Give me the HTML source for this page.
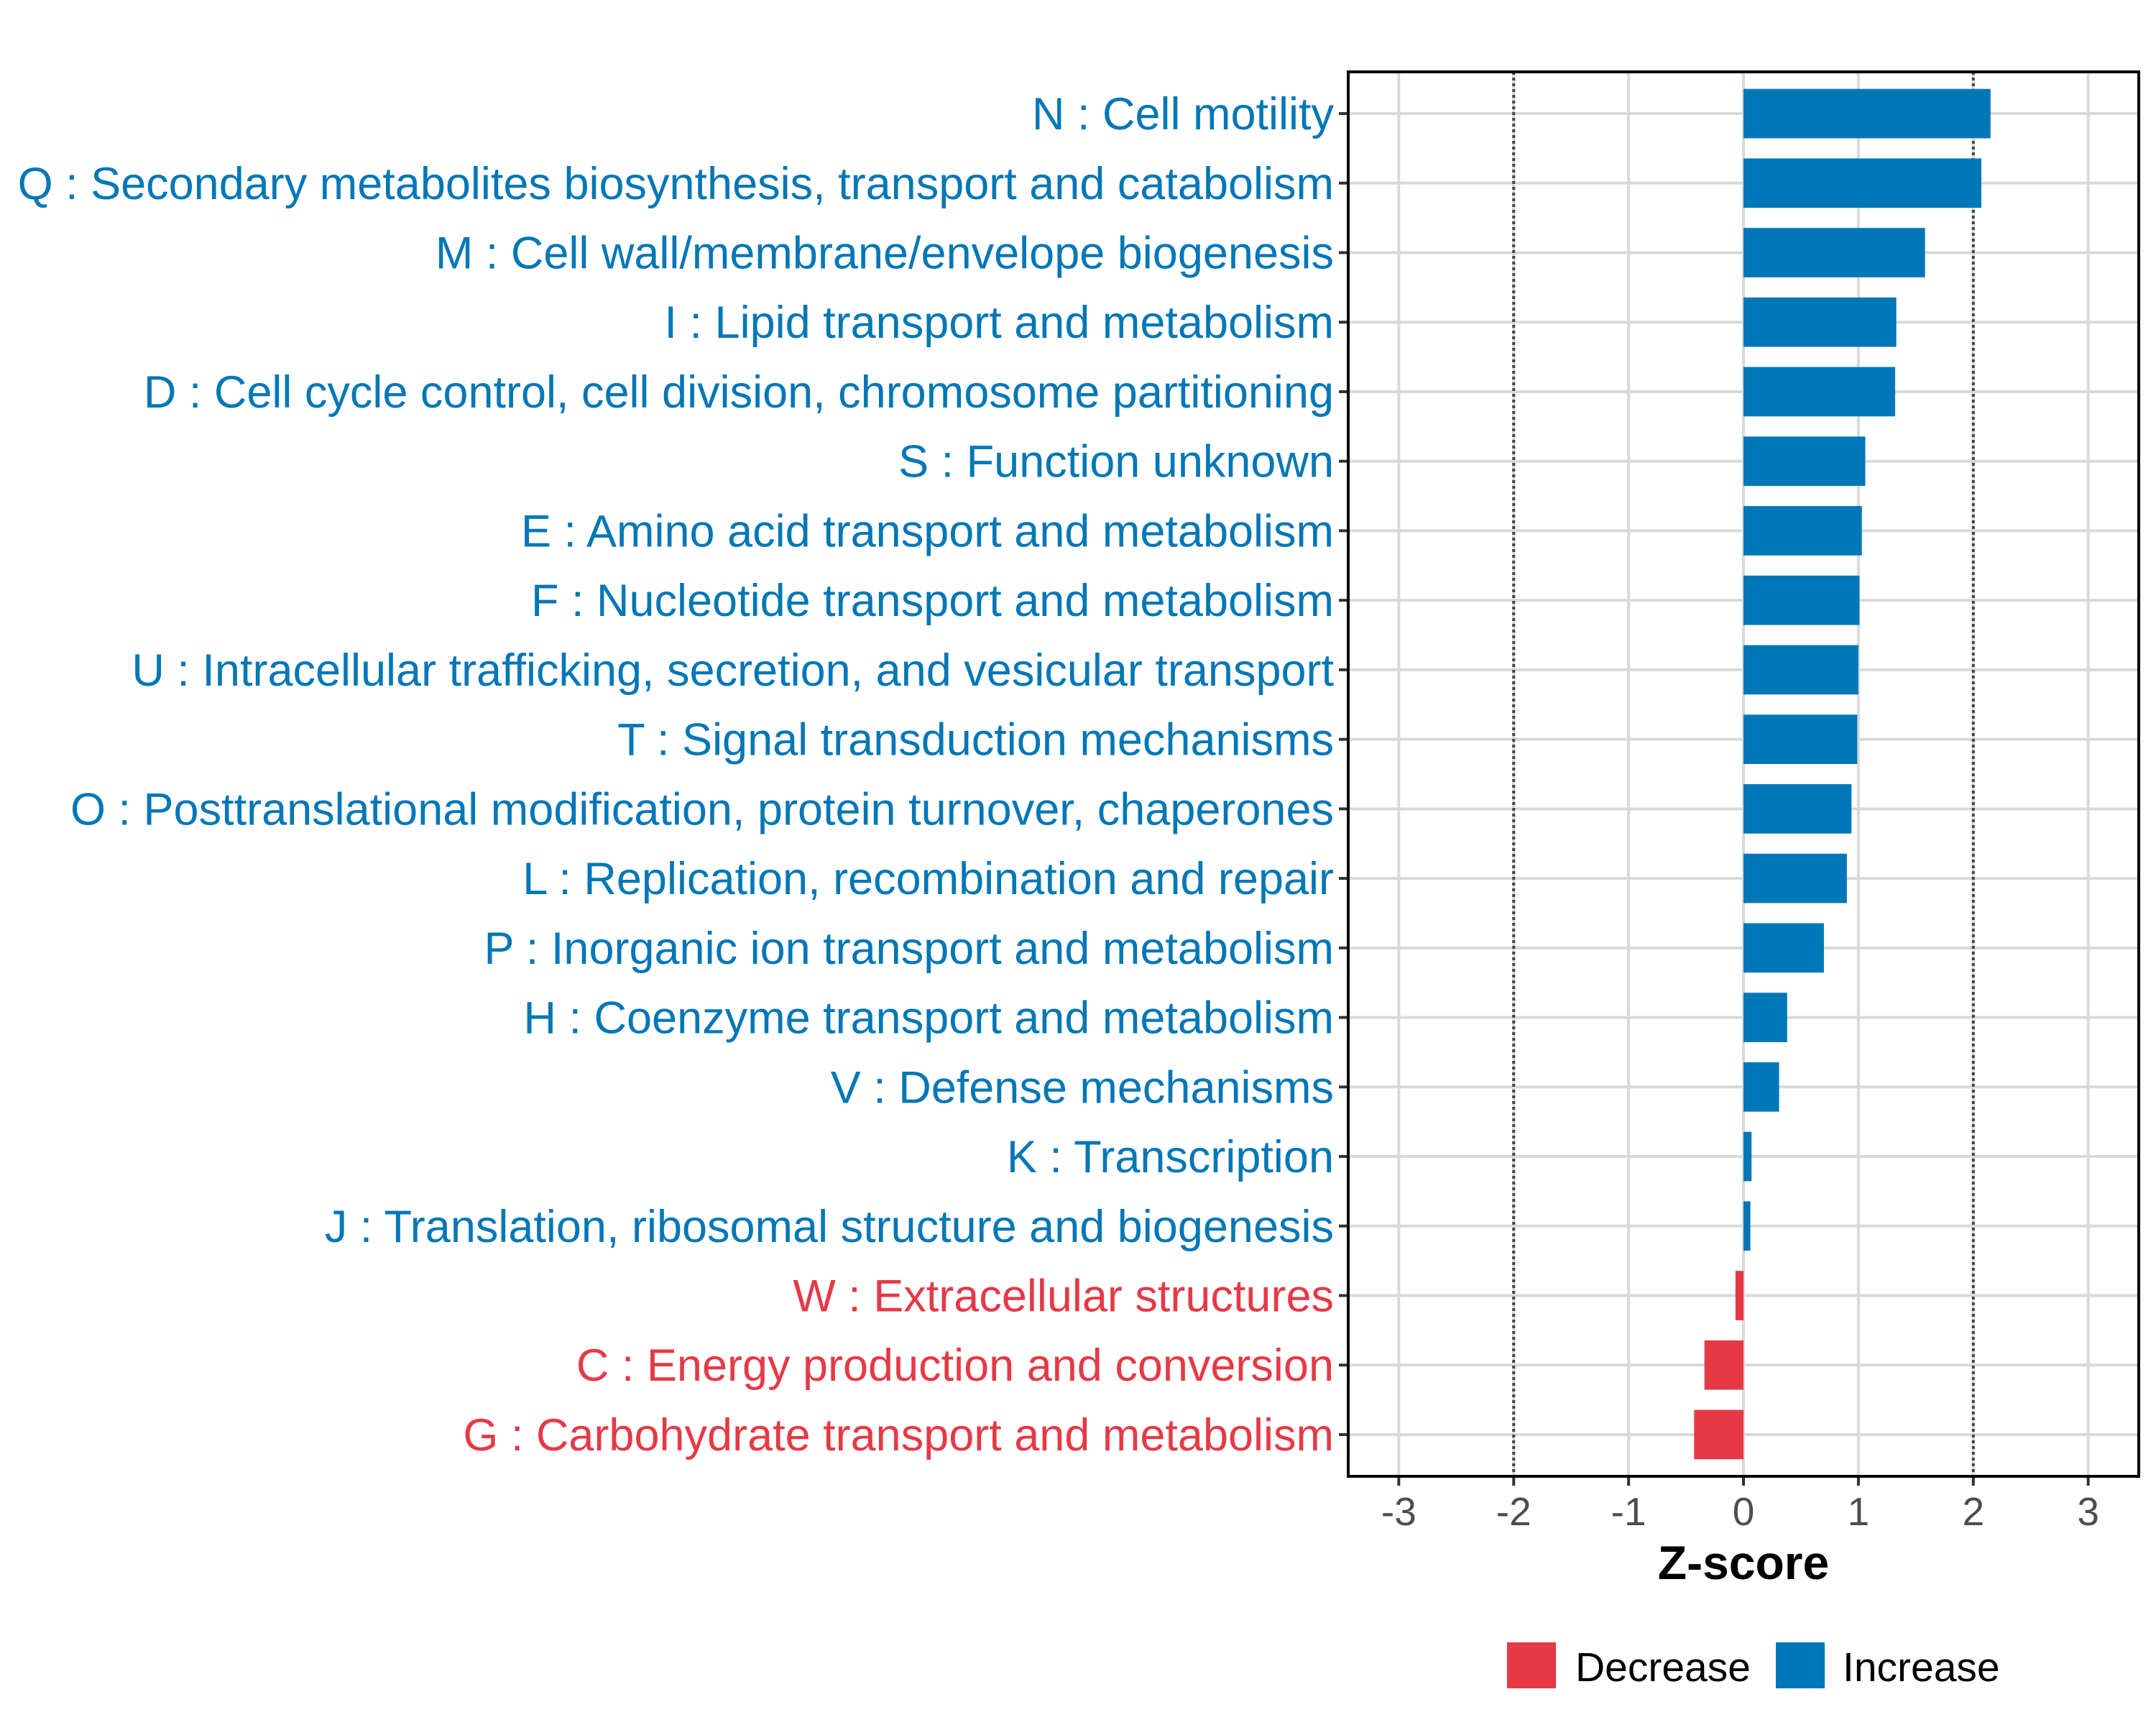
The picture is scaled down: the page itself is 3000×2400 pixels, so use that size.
<!DOCTYPE html>
<html><head><meta charset="utf-8"><style>
html,body{margin:0;padding:0;background:#fff}
svg{display:block;font-family:"Liberation Sans",sans-serif}
</style></head><body>
<svg id="chart" width="3000" height="2400" viewBox="0 0 3000 2400">
<rect width="3000" height="2400" fill="#fff"/>
<g id="grid"></g>
<g id="bars"></g>
<g id="ylabels"></g>
<g id="xaxis"></g>
<rect x="1876" y="100" width="1100" height="1954" fill="none" stroke="#000" stroke-width="4"/>
<text x="2426" y="2197" text-anchor="middle" font-size="66" font-weight="bold" fill="#000">Z-score</text>
<g>
<rect x="2097" y="2285" width="68" height="64" fill="#E63946"/>
<text x="2192" y="2339" font-size="57" fill="#000">Decrease</text>
<rect x="2471" y="2285" width="68" height="64" fill="#0077B6"/>
<text x="2564" y="2339" font-size="57" fill="#000">Increase</text>
</g>
</svg>
<script>
const categories = ["N : Cell motility","Q : Secondary metabolites biosynthesis, transport and catabolism","M : Cell wall/membrane/envelope biogenesis","I : Lipid transport and metabolism","D : Cell cycle control, cell division, chromosome partitioning","S : Function unknown","E : Amino acid transport and metabolism","F : Nucleotide transport and metabolism","U : Intracellular trafficking, secretion, and vesicular transport","T : Signal transduction mechanisms","O : Posttranslational modification, protein turnover, chaperones","L : Replication, recombination and repair","P : Inorganic ion transport and metabolism","H : Coenzyme transport and metabolism","V : Defense mechanisms","K : Transcription","J : Translation, ribosomal structure and biogenesis","W : Extracellular structures","C : Energy production and conversion","G : Carbohydrate transport and metabolism"];
const zscores = [2.15,2.07,1.58,1.33,1.32,1.06,1.03,1.01,1.0,0.99,0.94,0.90,0.70,0.38,0.31,0.07,0.06,-0.07,-0.34,-0.43];
const xTicks = [-3,-2,-1,0,1,2,3];
const xTickLabels = ["-3","-2","-1","0","1","2","3"];
const refLines = [-2,2];

const NS="http://www.w3.org/2000/svg";
const L=1876,R=2976,T=100,B=2054,xmin=-3.44,xmax=3.44;
const step=(B-T)/(categories.length+0.2);
const xs=v=>L+(v-xmin)/(xmax-xmin)*(R-L);
const ys=i=>T+(0.6+i)*step;
const BLUE="#0077B6",RED="#E63946";
function mk(tag,attrs,parent){const e=document.createElementNS(NS,tag);for(const k in attrs)e.setAttribute(k,attrs[k]);parent.appendChild(e);return e;}
const grid=document.getElementById('grid'),bars=document.getElementById('bars'),yl=document.getElementById('ylabels'),xa=document.getElementById('xaxis');
xTicks.forEach((t,i)=>{
  const g=mk('line',{x1:xs(t),x2:xs(t),y1:T,y2:B,stroke:'#d9d9d9','stroke-width':4},grid);
  
  
  const tk=mk('line',{x1:xs(t),x2:xs(t),y1:B,y2:B+13,stroke:'#333','stroke-width':4},xa);
  
  
  const tx=mk('text',{x:xs(t),y:2122,'text-anchor':'middle','font-size':55,fill:'#4d4d4d'},xa);
  tx.textContent=xTickLabels[i];
  
  
});
categories.forEach((c,i)=>{
  const g=mk('line',{x1:L,x2:R,y1:ys(i),y2:ys(i),stroke:'#d9d9d9','stroke-width':4},grid);
  
  
});
refLines.forEach(v=>{
  const d=mk('line',{x1:xs(v),x2:xs(v),y1:T,y2:B,stroke:'#444','stroke-width':4,'stroke-dasharray':'4 4'},grid);
  
  
});
const bh=step*0.71;
categories.forEach((c,i)=>{
  const v=zscores[i],col=v>=0?BLUE:RED;
  const x0=Math.min(xs(0),xs(v)),w=Math.abs(xs(v)-xs(0));
  const r=mk('rect',{x:x0,y:ys(i)-bh/2,width:w,height:bh,fill:col},bars);
  
  
  const tk=mk('line',{x1:L-13,x2:L,y1:ys(i),y2:ys(i),stroke:'#333','stroke-width':4},yl);
  
  
  const t=mk('text',{x:1856,y:ys(i)+22,'text-anchor':'end','font-size':63,fill:col},yl);
  t.textContent=c;
  
  
});
</script>
</body></html>
